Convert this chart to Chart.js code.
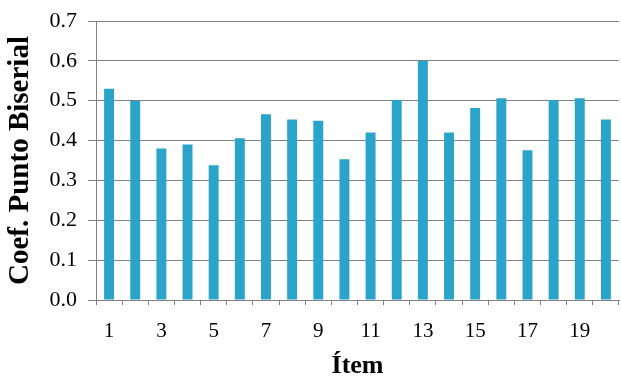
<!DOCTYPE html>
<html><head><meta charset="utf-8">
<script src="https://cdn.jsdelivr.net/npm/chart.js@4/dist/chart.umd.min.js"></script>
<style>html,body{margin:0;padding:0;background:#fff;}#wrap{width:621px;height:377px;}</style>
</head><body><div id="wrap"><canvas id="c"></canvas></div>
<script>
const categories = ['1','2','3','4','5','6','7','8','9','10','11','12','13','14','15','16','17','18','19','20'];
const values = [0.53,0.50,0.38,0.39,0.338,0.406,0.466,0.453,0.45,0.353,0.42,0.502,0.60,0.42,0.482,0.506,0.376,0.502,0.506,0.453];
const yTicks = [0,0.1,0.2,0.3,0.4,0.5,0.6,0.7];
const xTitle = 'Ítem';
const yTitle = 'Coef. Punto Biserial';

const font = "'Liberation Serif', 'Times New Roman', serif";
new Chart(document.getElementById('c'), {
  type: 'bar',
  data: { labels: categories, datasets: [{ data: values, backgroundColor: '#2AA4C8', barPercentage: 0.76, categoryPercentage: 0.5 }] },
  options: {
    responsive: true, maintainAspectRatio: false, animation: false,
    layout: { padding: { top: 21, right: 2, left: 0, bottom: 0 } },
    plugins: { legend: { display: false }, tooltip: { enabled: false } },
    scales: {
      x: {
        grid: { drawOnChartArea: false, drawTicks: true, tickLength: 5, color: '#8a7f7f', offset: true },
        border: { color: '#8a7f7f', width: 1 },
        ticks: { color: '#000', font: { family: font, size: 21 }, maxRotation: 0, autoSkip: false, padding: 14,
          callback: (v, i) => (i % 2 === 0 ? categories[i] : '') },
        title: { display: true, text: xTitle, color: '#000', font: { family: font, size: 26, weight: 'bold', lineHeight: 1 }, padding: { top: 0, bottom: -2 } },
        afterFit: s => { s.height = 77; }
      },
      y: {
        min: 0, max: 0.7,
        afterBuildTicks: s => { s.ticks = yTicks.map(v => ({ value: v })); },
        grid: { color: '#828282', tickLength: 8, drawTicks: true },
        border: { color: '#8a7f7f', width: 1 },
        ticks: { color: '#000', font: { family: font, size: 22, lineHeight: 1 }, padding: 11, callback: v => v.toFixed(1) },
        title: { display: true, text: yTitle, color: '#000', font: { family: font, size: 29, weight: 'bold' }, padding: { top: 3, bottom: 0 } },
        afterFit: s => { s.width = 96; s.paddingTop = 0; s.paddingBottom = 0; }
      }
    }
  }
});
</script></body></html>
